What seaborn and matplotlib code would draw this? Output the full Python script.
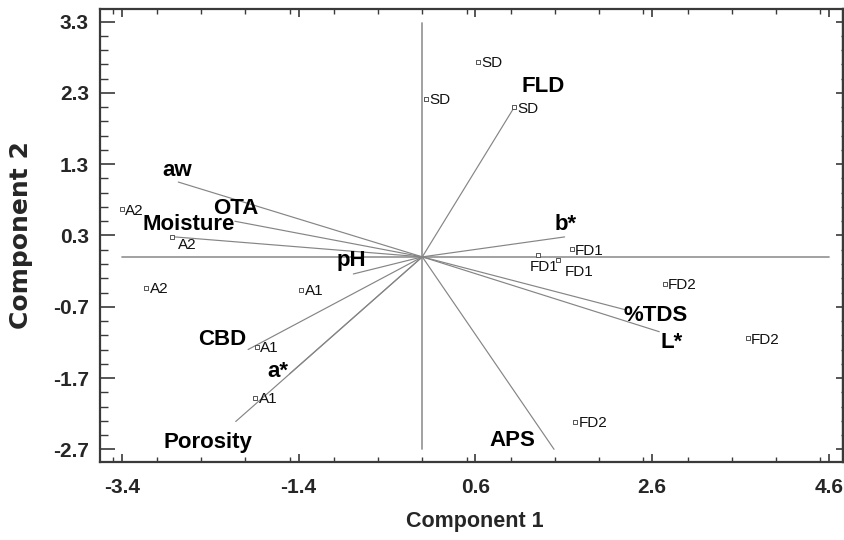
import numpy as np
import pandas as pd
import matplotlib
matplotlib.use("Agg")
import matplotlib.pyplot as plt
import seaborn as sns
from matplotlib.ticker import FixedLocator, MultipleLocator

# ---------------- data ----------------
obs_labels = ["SD", "SD", "SD", "FD1", "FD1", "FD1", "FD2", "FD2", "FD2",
              "A2", "A2", "A2", "A1", "A1", "A1"]
obs_x = [0.63, 0.04, 1.04, 1.69, 1.31, 1.53, 2.74, 3.68, 1.73,
         -3.40, -2.83, -3.12, -1.37, -1.875, -1.89]
obs_y = [2.74, 2.22, 2.10, 0.11, 0.03, -0.04, -0.38, -1.14, -2.31,
         0.67, 0.28, -0.43, -0.46, -1.26, -1.98]

var_names = ["aw", "OTA", "Moisture", "pH", "CBD", "a*", "Porosity",
             "FLD", "b*", "%TDS", "L*", "APS"]
var_x = [-2.76, -2.12, -2.80, -0.78, -1.97, -1.50, -2.11, 1.04, 1.61, 2.29, 2.68, 1.49]
var_y = [1.05, 0.50, 0.28, -0.24, -1.30, -1.64, -2.31, 2.10, 0.28, -0.74, -1.05, -2.70]
var_label_x = [-2.77, -2.11, -2.64, -0.80, -2.26, -1.63, -2.42, 1.37, 1.62, 2.64, 2.82, 1.02]
var_label_y = [1.14, 0.595, 0.384, -0.131, -1.243, -1.682, -2.678, 2.31, 0.384, -0.902, -1.275, -2.655]

x_ticks = [-3.4, -1.4, 0.6, 2.6, 4.6]
y_ticks = [3.3, 2.3, 1.3, 0.3, -0.7, -1.7, -2.7]
x_tick_labels = ["-3.4", "-1.4", "0.6", "2.6", "4.6"]
y_tick_labels = ["3.3", "2.3", "1.3", "0.3", "-0.7", "-1.7", "-2.7"]

x_label = "Component 1"
y_label = "Component 2"

# ---------------- styling ----------------
sns.set_style("white")
plt.rcParams["font.family"] = ["Liberation Sans", "DejaVu Sans"]
plt.rcParams["axes.unicode_minus"] = False

FRAME = "#3a3a3a"
LINE = "#858585"

fig = plt.figure(figsize=(8.44, 5.40), dpi=100)
ax = fig.add_axes([100 / 844, (540 - 461.7) / 540, 743 / 844, (461.7 - 9) / 540])

# reference axes through the origin
ax.plot([x_ticks[0], x_ticks[-1]], [0, 0], color="#9a9a9a", lw=1.3, zorder=1)
ax.plot([0, 0], [y_ticks[-1], 3.28], color="#9a9a9a", lw=1.3, zorder=1)

# loading vectors
rows = []
for n, vx, vy in zip(var_names, var_x, var_y):
    rows.append({"var": n, "x": 0.0, "y": 0.0})
    rows.append({"var": n, "x": vx, "y": vy})
vec_df = pd.DataFrame(rows)
sns.lineplot(data=vec_df, x="x", y="y", units="var", estimator=None, sort=False,
             color=LINE, lw=0.85, ax=ax, zorder=2, legend=False)

# observation scores
obs_df = pd.DataFrame({"x": obs_x, "y": obs_y, "label": obs_labels})
sns.scatterplot(data=obs_df, x="x", y="y", marker="s", s=12, color="white",
                edgecolor="#555555", linewidth=0.7, ax=ax, zorder=3, legend=False)

# observation labels (offsets in points)
label_offsets = {10: (4, -5, "left"), 4: (4, -8, "center"), 5: (5, -8, "left")}
for i, (lx, ly, lab) in enumerate(zip(obs_x, obs_y, obs_labels)):
    dx, dy, ha = label_offsets.get(i, (2.5, 0, "left"))
    ax.annotate(lab, (lx, ly), xytext=(dx, dy), textcoords="offset points",
                ha=ha, va="center_baseline", fontsize=11, color="#111111",
                zorder=4)

# vector labels
for n, lx, ly in zip(var_names, var_label_x, var_label_y):
    ax.text(lx, ly, n, ha="center", va="baseline", fontsize=16,
            fontweight="bold", color="black", zorder=4)

# axes limits, ticks
ax.set_xlim(-3.645, 4.758)
ax.set_ylim(-2.874, 3.478)
ax.xaxis.set_major_locator(FixedLocator(x_ticks))
ax.xaxis.set_minor_locator(MultipleLocator(0.5))
ax.yaxis.set_major_locator(FixedLocator(y_ticks))
minor_y = np.round(np.arange(-2.7, 3.31, 0.2), 2)
ax.yaxis.set_minor_locator(FixedLocator(minor_y))
ax.set_xticklabels(x_tick_labels, fontsize=15, fontweight="bold")
ax.set_yticklabels(y_tick_labels, fontsize=15, fontweight="bold")

ax.tick_params(axis="x", which="major", direction="in", length=6, width=1.2,
               color=FRAME, top=True, bottom=True, pad=12)
ax.tick_params(axis="x", which="minor", direction="in", length=3.5, width=1.0,
               color=FRAME, top=True, bottom=True)
ax.tick_params(axis="y", which="major", direction="in", length=11, width=1.2,
               color=FRAME, left=True, right=False, pad=8)
ax.tick_params(axis="y", which="minor", direction="in", length=6, width=1.0,
               color=FRAME, left=True, right=False)

sec = ax.secondary_yaxis("right")
sec.yaxis.set_major_locator(FixedLocator(y_ticks))
sec.yaxis.set_minor_locator(FixedLocator(minor_y))
sec.tick_params(which="major", direction="in", length=5, width=1.2, color=FRAME,
                labelright=False)
sec.tick_params(which="minor", direction="in", length=1.5, width=1.0, color=FRAME)
sec.spines["right"].set_color(FRAME)
sec.spines["right"].set_linewidth(1.6)

for s in ax.spines.values():
    s.set_color(FRAME)
    s.set_linewidth(1.6)
    s.set_visible(True)

ax.set_xlabel(x_label, fontsize=15.5, fontweight="bold")
ax.xaxis.label.set_va("baseline")
ax.xaxis.set_label_coords(0.505, (461.7 - 526.7) / 452.7)
ax.set_ylabel(y_label, fontsize=18, fontweight="bold", family="DejaVu Sans")
ax.yaxis.label.set_va("center")
ax.yaxis.set_label_coords((21 - 100) / 743, 0.5)

fig.savefig("out.png", dpi=100)
